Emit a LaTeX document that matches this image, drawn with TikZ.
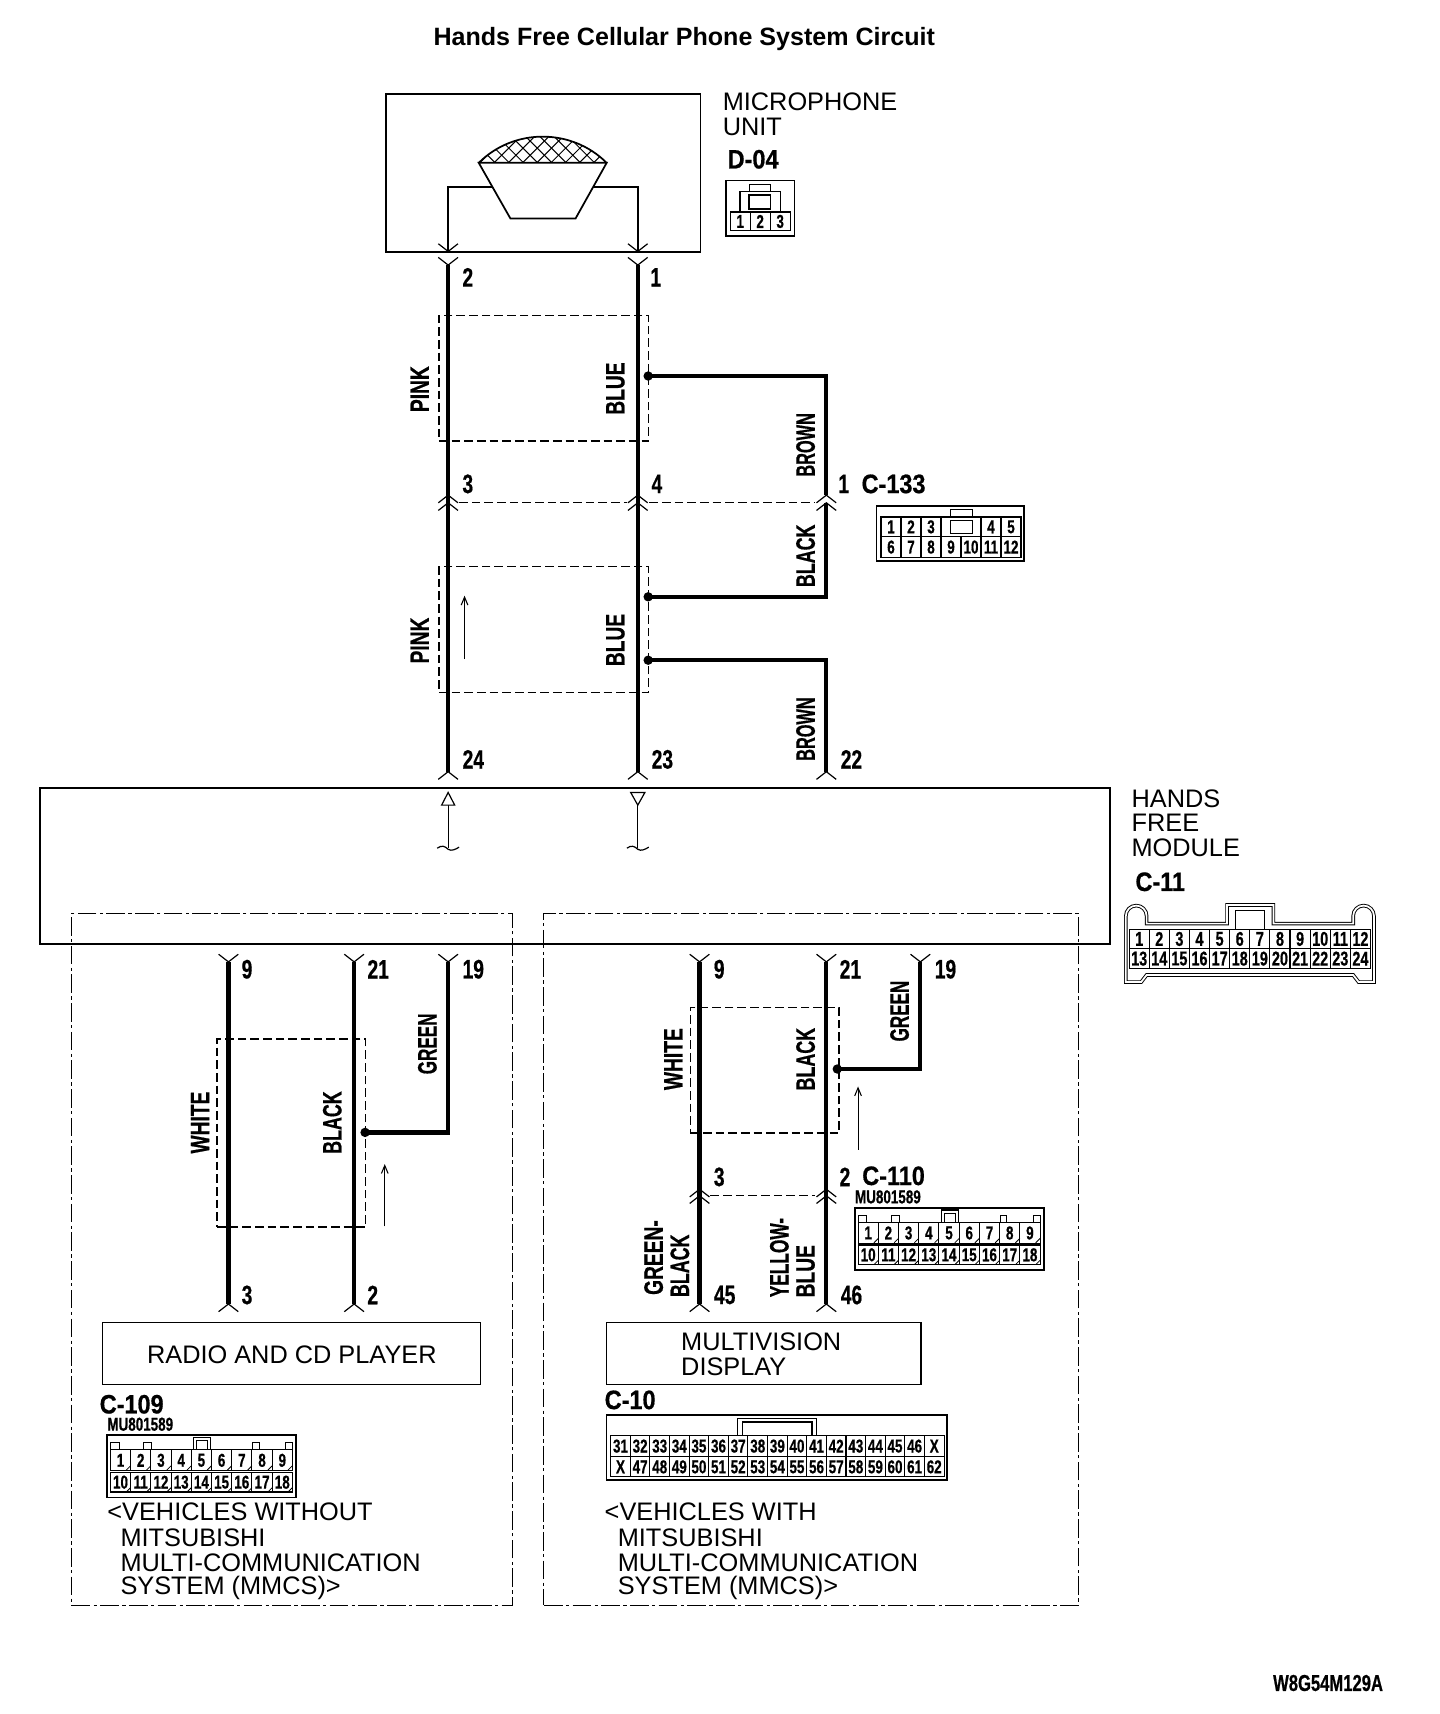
\documentclass[tikz,border=0pt]{standalone}
\usepackage{fontspec}
\usepackage{calc}
\setmainfont{Liberation Sans}
\newfontfamily\nar[FakeStretch=0.72,FakeBold=0.6]{Liberation Sans}
\newfontfamily\narw[FakeStretch=0.88,FakeBold=0.6]{Liberation Sans}
\usetikzlibrary{arrows.meta}
\newcommand{\uu}{0.81975}
\newcommand{\squeeze}[2]{\scalebox{#1}[1]{#2}}
\tikzset{
  box/.style={draw,line width=1.4pt},
  wire/.style={line width=3.2pt},
  feed/.style={line width=1.1pt},
  shield/.style={draw,line width=.9pt,dash pattern=on 6.5pt off 3pt},
  frame/.style={draw,line width=.9pt,dash pattern=on 14pt off 2.5pt on 2.5pt off 2.5pt},
  dashlink/.style={line width=.9pt,dash pattern=on 6.5pt off 3pt},
  thin arrow/.style={line width=.8pt,-{Straight Barb[length=6pt,width=5pt]}},
  lab/.style={font=\fontsize{19}{19}\selectfont,anchor=west,inner sep=0,yshift=-.4pt},
  pinno/.style={font=\nar\bfseries\fontsize{20}{20}\selectfont,inner sep=0,yshift=-.6pt},
  connname/.style={font=\narw\bfseries\fontsize{20}{20}\selectfont,inner sep=0,yshift=-.6pt},
  wirelab/.style={font=\nar\bfseries\fontsize{20}{20}\selectfont,inner sep=0,rotate=90},
  small/.style={font=\nar\bfseries\fontsize{14}{14}\selectfont,inner sep=0},
  conn/.style={draw,line width=1.2pt,fill=white},
  connthin/.style={draw,line width=.8pt},
  chevup/.pic={\draw[line width=.9pt] (-9,7)--(0,0)--(9,7);},
  chevdn/.pic={\draw[line width=.9pt] (-9,-7)--(0,0)--(9,-7);},
}
% \cellrow{name}{x0}{ycentre}{cell width}{cell height}{font size}{list}
\newcommand{\cellrow}[7]{%
  \foreach \t [count=\i from 0] in {#7}{%
    \node[draw,line width=.8pt,inner sep=0,minimum width=#4*\uu pt,minimum height=#5*\uu pt,
      font=\nar\bfseries\fontsize{#6}{#6}\selectfont] (#1-\i) at ({#2+(\i+.5)*#4},#3) {\t};
  }}
% ticks in the corner of each cell
\newcommand{\cellticks}[5]{%
  \foreach \i in {1,...,9}{\draw[line width=.6pt] ({#1+\i*#2-4},#3)--({#1+\i*#2},{#3-4});}}
% the 18 pin connector
\newcommand{\muconn}[3]{%
  \begin{scope}[shift={(#2,#3)}]
    \node[conn,minimum width=173*\uu pt,minimum height=57*\uu pt,inner sep=0] (#1-body) at (86.5,28.5) {};
    \foreach \a/\b in {3/11,33.5/40.5,133/139,163.5/169.5}{\draw[connthin] (\a,13)--(\a,7)--(\b,7)--(\b,13);}
    \draw[connthin] (79,13)--(79,2)--(95,2)--(95,13);
    \draw[connthin] (82,13)--(82,5)--(92,5)--(92,13);
    \cellrow{#1-a}{3}{23}{18.5}{19}{14}{1,2,3,4,5,6,7,8,9}
    \cellrow{#1-b}{3}{43}{18.5}{18}{14}{10,11,12,13,14,15,16,17,18}
    \cellticks{3}{18.5}{32}{}{}
    \cellticks{3}{18.5}{52}{}{}
  \end{scope}}
\newcommand{\tildeat}[2]{\draw[line width=.9pt] (#1-10,#2) .. controls (#1-6,#2-3) and (#1-3,#2-2) .. (#1,#2+1) .. controls (#1+3,#2+3) and (#1+7,#2+1) .. (#1+10,#2-1);}
\begin{document}
\begin{tikzpicture}[x=\uu pt,y=-\uu pt]
\useasboundingbox (0,0) rectangle (1317.4,1568.1);

\node[font=\bfseries\fontsize{18.8}{18.8}\selectfont,inner sep=0] (title) at (626,35.5) {Hands Free Cellular Phone System Circuit};

% ---------- microphone unit
\node[box,minimum width=288*\uu pt,minimum height=145*\uu pt,inner sep=0,anchor=north west] (mic) at (352,85) {};
\begin{scope}
  \clip (438,149) .. controls (470,117) and (523,117) .. (555,149) -- cycle;
  \foreach \k in {-4,...,16}{
    \draw[line width=.75pt] ({420+\k*13},155)--({420+\k*13+32},123);
    \draw[line width=.75pt] ({420+\k*13},155)--({420+\k*13-32},123);
  }
\end{scope}
\draw[line width=1.3pt] (438,149) .. controls (470,117) and (523,117) .. (555,149);
\draw[line width=1.3pt] (438,149)--(555,149)--(526.5,200)--(467,200)--cycle;
\coordinate (m2a) at (410,171); \coordinate (m2b) at (410,230);
\coordinate (m1a) at (583.5,171); \coordinate (m1b) at (583.5,230);
\draw[feed] (450.5,171)--(m2a)--(m2b);
\draw[feed] (542.7,171)--(m1a)--(m1b);
\pic at (m2b) {chevdn}; \pic at (m1b) {chevdn};

\node[lab] (micname1) at (661,93) {MICROPHONE};
\node[lab] (micname2) at (661,116) {UNIT};
\node[connname] (d04name) at (689,145) {D-04};
\draw[conn] (664,165) rectangle (727,216);
\draw[connthin] (677,194)--(677,175.4)--(714,175.4)--(714,194);
\draw[connthin] (685.3,175.4)--(685.3,168.6)--(705,168.6)--(705,175.4);
\draw[line width=1pt] (685.3,178.4) rectangle (705,191.3);
\cellrow{d04}{668}{202.6}{18.3}{17.3}{14}{1,2,3}

% ---------- upper wires
\node[shield,minimum width=192*\uu pt,minimum height=115*\uu pt,inner sep=0,anchor=north west] (sh1) at (401,288) {};
\node[shield,minimum width=192*\uu pt,minimum height=115*\uu pt,inner sep=0,anchor=north west] (sh2) at (401,518) {};
\coordinate (t2) at (410,242.5); \coordinate (b24) at (410,706);
\coordinate (t1) at (583.5,242.5); \coordinate (b23) at (583.5,706);
\draw[wire] (t2)--(b24);
\draw[wire] (t1)--(b23);
\pic at (t2) {chevdn}; \pic at (t1) {chevdn};
\pic at (b24) {chevup}; \pic at (b23) {chevup};
\foreach \x in {410,583.5,756}{\pic at (\x,453) {chevup}; \pic at (\x,460) {chevup};}
\coordinate (br1t) at (756,344); \coordinate (br1b) at (756,453);
\coordinate (bl1t) at (756,460); \coordinate (bl1b) at (756,546);
\coordinate (br2t) at (756,604); \coordinate (b22) at (756,706);
\coordinate (d1) at (593,344); \coordinate (d2) at (593,546); \coordinate (d3) at (593,604);
\draw[wire,line join=miter] (d1)--(br1t)--(br1b);
\draw[wire,line join=miter] (bl1t)--(bl1b)--(d2);
\draw[wire,line join=miter] (d3)--(br2t)--(b22);
\pic at (b22) {chevup};
\foreach \d in {d1,d2,d3}{\fill (\d) circle (4.3);}
\coordinate (l1) at (420,460); \coordinate (l2) at (574,460); \coordinate (l3) at (594,460); \coordinate (l4) at (746,460);
\draw[dashlink] (l1)--(l2);
\draw[dashlink] (l3)--(l4);
\coordinate (ar1a) at (425,603); \coordinate (ar1b) at (425,545);
\draw[thin arrow] (ar1a)--(ar1b);

\node[wirelab] (wl1) at (384,356) {PINK};
\node[wirelab] (wl2) at (563,355.5) {BLUE};
\node[wirelab] (wl3) at (737,407) {\squeeze{.85}{BROWN}};
\node[wirelab] (wl4) at (737,508.5) {\squeeze{.93}{BLACK}};
\node[wirelab] (wl5) at (384,586) {PINK};
\node[wirelab] (wl6) at (563,585.5) {BLUE};
\node[wirelab] (wl7) at (737,667) {\squeeze{.85}{BROWN}};

\node[pinno] (p2) at (428,253) {2};
\node[pinno] (p1) at (600,253) {1};
\node[pinno] (p3) at (428,442) {3};
\node[pinno] (p4) at (601,442) {4};
\node[pinno] (p1b) at (772,442) {1};
\node[connname] (c133name) at (817.5,442) {C-133};
\node[pinno] (p24) at (433,694) {24};
\node[pinno] (p23) at (606,694) {23};
\node[pinno] (p22) at (779,694) {22};

\draw[conn] (802,463) rectangle (937,513);
\draw[connthin] (870,473)--(870,466)--(890,466)--(890,473);
\cellrow{c133a}{806}{482}{18.3}{18}{14}{1,2,3}
\node[draw,line width=.8pt,minimum width=36.6*\uu pt,minimum height=18*\uu pt,inner sep=0] (c133h) at (879.2,482) {};
\draw[line width=.8pt] (870,476) rectangle (890,488);
\cellrow{c133b}{897.5}{482}{18.3}{18}{14}{4,5}
\cellrow{c133c}{806}{500.5}{18.3}{19}{14}{6,7,8,9,10,11,12}

% ---------- hands free module
\node[box,minimum width=979*\uu pt,minimum height=143*\uu pt,inner sep=0,anchor=north west] (hfm) at (36,720) {};
\draw[line width=.9pt] (410,776)--(410,736.6);
\draw[line width=.9pt,fill=white] (410,725)--(404,736.6)--(416,736.6)--cycle;
\tildeat{410}{776}
\draw[line width=.9pt] (583.5,776)--(583.5,736.6);
\draw[line width=.9pt,fill=white] (583.5,736.6)--(577,725)--(590,725)--cycle;
\tildeat{583.5}{776}
\node[lab] (hf1) at (1035,730) {HANDS};
\node[lab] (hf2) at (1035,752) {FREE};
\node[lab] (hf3) at (1035,775) {MODULE};
\node[connname] (c11name) at (1061.5,806) {C-11};

% C-11 connector
\draw[line width=.7pt,double=white,double distance=1.3pt]
  (1030,898.5)--(1030,838) arc (180:360:9.5) --(1049,845)--(1122.6,845)--(1122.6,828)--(1165,828)--(1165,845)--(1238,845)--(1238,838) arc (180:360:9.5) --(1257,898.5)--(1243,898.5)--(1238,892)--(1049,892)--(1044,898.5)--cycle;
\draw[line width=.8pt] (1130,850)--(1130,833)--(1157,833)--(1157,850);
\cellrow{c11a}{1033}{859}{18.4}{18}{15}{1,2,3,4,5,6,7,8,9,10,11,12}
\cellrow{c11b}{1033}{877}{18.4}{18}{15}{13,14,15,16,17,18,19,20,21,22,23,24}

% ---------- left variant
\node[frame,minimum width=403*\uu pt,minimum height=633*\uu pt,inner sep=0,anchor=north west] (fl) at (65,835) {};
\node[shield,minimum width=136*\uu pt,minimum height=172*\uu pt,inner sep=0,anchor=north west] (sh3) at (198,950) {};
\coordinate (w9t) at (209,880); \coordinate (w9b) at (209,1193);
\coordinate (w21t) at (324,880); \coordinate (w21b) at (324,1193);
\coordinate (w19t) at (410,880); \coordinate (w19c) at (410,1036); \coordinate (d4) at (334,1036);
\draw[wire] (w9t)--(w9b);
\draw[wire] (w21t)--(w21b);
\draw[wire,line join=miter] (w19t)--(w19c)--(d4);
\fill (d4) circle (4.3);
\foreach \c in {w9t,w21t,w19t}{\pic at (\c) {chevdn};}
\foreach \c in {w9b,w21b}{\pic at (\c) {chevup};}
\coordinate (ar2a) at (352,1122); \coordinate (ar2b) at (352,1065);
\draw[thin arrow] (ar2a)--(ar2b);
\node[wirelab] (wl8) at (183,1027) {WHITE};
\node[wirelab] (wl9) at (304,1027) {\squeeze{.93}{BLACK}};
\node[wirelab] (wl10) at (391,955) {\squeeze{.89}{GREEN}};
\node[pinno] (p9) at (226,886) {9};
\node[pinno] (p21) at (346,886) {21};
\node[pinno] (p19) at (433,886) {19};
\node[pinno] (p3l) at (226,1184) {3};
\node[pinno] (p2l) at (341,1184) {2};
\node[draw,line width=1.1pt,minimum width=346*\uu pt,minimum height=57*\uu pt,inner sep=0,anchor=north west] (radio) at (93,1209) {};
\node[lab,anchor=center] (radiot) at (267,1238.5) {RADIO AND CD PLAYER};
\node[connname,anchor=west] (c109name) at (91,1284) {C-109};
\node[small,anchor=west] (c109mu) at (98,1303) {MU801589};
\muconn{c109}{98}{1313}
\node[lab] (vl1) at (98,1383) {<VEHICLES WITHOUT};
\node[lab] (vl2) at (110,1406) {MITSUBISHI};
\node[lab] (vl3) at (110,1429) {MULTI-COMMUNICATION};
\node[lab] (vl4) at (110,1452) {SYSTEM (MMCS)>};

% ---------- right variant
\node[frame,minimum width=489*\uu pt,minimum height=633*\uu pt,inner sep=0,anchor=north west] (fr) at (497,835) {};
\node[shield,minimum width=136*\uu pt,minimum height=115*\uu pt,inner sep=0,anchor=north west] (sh4) at (631,921) {};
\coordinate (x9t) at (640,880); \coordinate (x9b) at (640,1193);
\coordinate (x21t) at (756,880); \coordinate (x21b) at (756,1193);
\coordinate (x19t) at (842,880); \coordinate (x19c) at (842,978); \coordinate (d5) at (766,978);
\draw[wire] (x9t)--(x9b);
\draw[wire] (x21t)--(x21b);
\draw[wire,line join=miter] (x19t)--(x19c)--(d5);
\fill (d5) circle (4.3);
\foreach \c in {x9t,x21t,x19t}{\pic at (\c) {chevdn};}
\foreach \c in {x9b,x21b}{\pic at (\c) {chevup};}
\foreach \x in {640,756}{\pic at (\x,1088) {chevup}; \pic at (\x,1094) {chevup};}
\coordinate (l5) at (650,1094); \coordinate (l6) at (746,1094);
\draw[dashlink] (l5)--(l6);
\coordinate (ar3a) at (785,1052); \coordinate (ar3b) at (785,994);
\draw[thin arrow] (ar3a)--(ar3b);
\node[wirelab] (wl11) at (616,969) {WHITE};
\node[wirelab] (wl12) at (737,969) {\squeeze{.93}{BLACK}};
\node[wirelab] (wl13) at (823,925) {\squeeze{.89}{GREEN}};
\node[wirelab] (wl14) at (598,1150.5) {GREEN-};
\node[wirelab] (wl15) at (622,1158) {\squeeze{.93}{BLACK}};
\node[wirelab] (wl16) at (713,1150.5) {\squeeze{.9}{YELLOW-}};
\node[wirelab] (wl17) at (737,1163) {BLUE};
\node[pinno] (q9) at (658,886) {9};
\node[pinno] (q21) at (778,886) {21};
\node[pinno] (q19) at (865,886) {19};
\node[pinno] (q3) at (658,1076) {3};
\node[pinno] (q2) at (773,1076) {2};
\node[connname] (c110name) at (817.5,1075) {C-110};
\node[small,anchor=west] (c110mu) at (782,1095) {MU801589};
\node[pinno] (q45) at (663,1184) {45};
\node[pinno] (q46) at (779,1184) {46};
\muconn{c110}{782}{1105}
\node[draw,line width=1.1pt,minimum width=288*\uu pt,minimum height=57*\uu pt,inner sep=0,anchor=north west] (mvd) at (554,1209) {};
\node[lab] (mv1) at (623,1227) {MULTIVISION};
\node[lab] (mv2) at (623,1250) {DISPLAY};
\node[connname,anchor=west] (c10name) at (553,1280) {C-10};
\draw[conn] (555,1294.5) rectangle (866.5,1354);
\draw[connthin] (675,1313)--(675,1298)--(747,1298)--(747,1313);
\draw[line width=1pt] (679,1313)--(679,1301)--(743,1301)--(743,1313);
\cellrow{c10a}{558.7}{1323}{17.94}{19.3}{14}{31,32,33,34,35,36,37,38,39,40,41,42,43,44,45,46,X}
\cellrow{c10b}{558.7}{1342}{17.94}{18.3}{14}{X,47,48,49,50,51,52,53,54,55,56,57,58,59,60,61,62}
\node[lab] (vr1) at (553,1383) {<VEHICLES WITH};
\node[lab] (vr2) at (565,1406) {MITSUBISHI};
\node[lab] (vr3) at (565,1429) {MULTI-COMMUNICATION};
\node[lab] (vr4) at (565,1452) {SYSTEM (MMCS)>};

\node[pinno,font=\nar\bfseries\fontsize{17.3}{17.3}\selectfont] (code) at (1215,1539) {W8G54M129A};
\end{tikzpicture}
\end{document}
